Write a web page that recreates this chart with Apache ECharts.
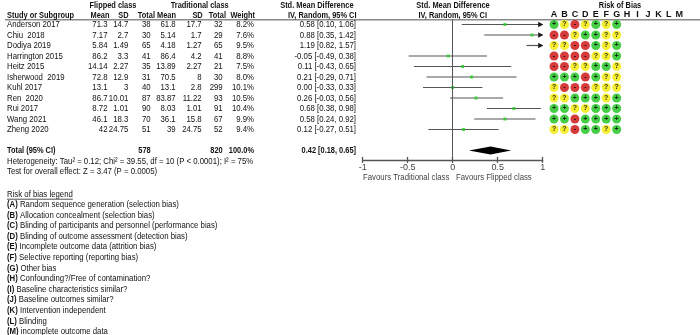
<!DOCTYPE html>
<html><head><meta charset="utf-8">
<script src="https://cdn.jsdelivr.net/npm/echarts@6/dist/echarts.min.js"></script>
<style>html,body{margin:0;padding:0;background:#fff}#c{width:700px;height:335px}</style>
</head><body><div id="c"></div>
<script>
// ---------------- data ----------------
const studies = ['Anderson 2017','Chiu  2018','Dodiya 2019','Harrington 2015','Heitz 2015','Isherwood  2019','Kuhl 2017','Ren  2020','Rui 2017','Wang 2021','Zheng 2020'];
const flipMean = [71.3, 7.17, 5.84, 86.2, 14.14, 72.8, 13.1, 86.7, 8.72, 46.1, 42];
const flipSD   = [14.7, 2.7, 1.49, 3.3, 2.27, 12.9, 3, 10.01, 1.01, 18.3, 24.75];
const flipN    = [38, 30, 65, 41, 35, 31, 40, 87, 90, 70, 51];
const tradMean = [61.8, 5.14, 4.18, 86.4, 13.89, 70.5, 13.1, 83.87, 8.03, 36.1, 39];
const tradSD   = [17.7, 1.7, 1.27, 4.2, 2.27, 8, 2.8, 11.22, 1.01, 15.8, 24.75];
const tradN    = [32, 29, 65, 41, 21, 30, 299, 93, 91, 67, 52];
const weights  = [8.2, 7.6, 9.5, 8.8, 7.5, 8.0, 10.1, 10.5, 10.4, 9.9, 9.4];
const smd      = [0.58, 0.88, 1.19, -0.05, 0.11, 0.21, 0.00, 0.26, 0.68, 0.58, 0.12];
const ciLo     = [0.10, 0.35, 0.82, -0.49, -0.43, -0.29, -0.33, -0.03, 0.38, 0.24, -0.27];
const ciHi     = [1.06, 1.42, 1.57, 0.38, 0.65, 0.71, 0.33, 0.56, 0.98, 0.92, 0.51];
const totalFlipN = 578, totalTradN = 820, totalWeight = 100.0;
const totalSMD = 0.42, totalLo = 0.18, totalHi = 0.65;
const robLetters = ['A','B','C','D','E','F','G','H','I','J','K','L','M'];
const robCodes = ['+?-?+?+','--?++??','??--+?+','----??+','--??++?','+++-+??','?---???','??+++?+','++??+++','++-++++','??-++?+'];
const xTickLabels = ['-1','-0.5','0','0.5','1'];
const heteroText = 'Heterogeneity: Tau\u00b2 = 0.12; Chi\u00b2 = 39.55, df = 10 (P < 0.0001); I\u00b2 = 75%';
const overallText = 'Test for overall effect: Z = 3.47 (P = 0.0005)';
const favLeft = 'Favours Traditional class', favRight = 'Favours Flipped class';
const legendTitle = 'Risk of bias legend';
const legendItems = [
 ['A','Random sequence generation (selection bias)'],
 ['B','Allocation concealment (selection bias)'],
 ['C','Blinding of participants and personnel (performance bias)'],
 ['D','Blinding of outcome assessment (detection bias)'],
 ['E','Incomplete outcome data (attrition bias)'],
 ['F','Selective reporting (reporting bias)'],
 ['G','Other bias'],
 ['H','Confounding?/Free of contamination?'],
 ['I','Baseline characteristics similar?'],
 ['J','Baseline outcomes similar?'],
 ['K','Intervention independent'],
 ['L','Blinding'],
 ['M','incomplete outcome data']
];

// ---------------- layout / style ----------------
const FF = '"Liberation Sans", Arial, sans-serif';
const FS = 9.5;
const SX = 0.82, SXB = 0.78; // horizontal squeeze to match the narrow reference lettering
const F = FS + 'px ' + FF, FB = 'bold ' + FS + 'px ' + FF;
const TXT = '#111';
const TOTAL_ROW = 12;
const Y_MIN = -0.5, Y_MAX = 12.9;
const GRID_TOP = 19.25, GRID_H = 140.7;
const fmt2 = v => (v < 0 ? '-' : '') + Math.abs(v).toFixed(2);
const fmtCI = (e, l, h) => fmt2(e) + ' [' + fmt2(l) + ', ' + fmt2(h) + ']';

const cols = [
 {x: 7,     align: 'left',  get: i => studies[i],                 tot: 'Total (95% CI)'},
 {x: 107.5, align: 'right', get: i => String(flipMean[i]),        tot: ''},
 {x: 128.3, align: 'right', get: i => String(flipSD[i]),          tot: ''},
 {x: 150.7, align: 'right', get: i => String(flipN[i]),           tot: String(totalFlipN)},
 {x: 175.7, align: 'right', get: i => String(tradMean[i]),        tot: ''},
 {x: 201.7, align: 'right', get: i => String(tradSD[i]),          tot: ''},
 {x: 222.7, align: 'right', get: i => String(tradN[i]),           tot: String(totalTradN)},
 {x: 254,   align: 'right', get: i => weights[i].toFixed(1) + '%', tot: totalWeight.toFixed(1) + '%'},
 {x: 356,   align: 'right', get: i => fmtCI(smd[i], ciLo[i], ciHi[i]), tot: fmtCI(totalSMD, totalLo, totalHi)}
];

function txt(text, x, y, align, font, fill) {
  const f = font || F;
  return {type: 'text', x: x, y: y, scaleX: f === FB ? SXB : SX, silent: true,
    style: {text: text, x: 0, y: 0, font: f, fill: fill || TXT,
      align: align || 'left', textAlign: align || 'left', verticalAlign: 'middle', textVerticalAlign: 'middle'}};
}

const mctx = document.createElement('canvas').getContext('2d');
mctx.font = F;
const legTitleW = mctx.measureText(legendTitle).width * SX;

const graphics = [
  {type: 'line', silent: true, shape: {x1: 5, y1: 19.8, x2: 700, y2: 19.8}, style: {stroke: '#8a8a8a', lineWidth: 1.5}},
  txt('Flipped class', 113, 5, 'center', FB),
  txt('Traditional class', 199.7, 5, 'center', FB),
  txt('Std. Mean Difference', 353.5, 5, 'right', FB),
  txt('Std. Mean Difference', 453, 5, 'center', FB),
  txt('Risk of Bias', 620, 5, 'center', FB),
  txt('Study or Subgroup', 7, 15, 'left', FB),
  txt('Mean', 109.5, 15, 'right', FB),
  txt('SD', 128.5, 15, 'right', FB),
  txt('Total', 155, 15, 'right', FB),
  txt('Mean', 176, 15, 'right', FB),
  txt('SD', 202.7, 15, 'right', FB),
  txt('Total', 226, 15, 'right', FB),
  txt('Weight', 255, 15, 'right', FB),
  txt('IV, Random, 95% CI', 356.5, 15, 'right', FB),
  txt('IV, Random, 95% CI', 452.7, 15, 'center', FB),
  txt(heteroText, 7, 161.7),
  txt(overallText, 7, 171.7),
  txt(favLeft, 449.3, 177.3, 'right', F, '#444'),
  txt(favRight, 456, 177.3, 'left', F, '#444'),
  txt(legendTitle, 7, 194),
  {type: 'line', silent: true, shape: {x1: 7, y1: 199.2, x2: 7 + legTitleW, y2: 199.2}, style: {stroke: '#222', lineWidth: 0.8}}
];
legendItems.forEach((it, k) => {
  graphics.push({type: 'text', x: 7, y: 204.3 + 10.6 * k, scaleX: SX, silent: true,
    style: {text: '{b|(' + it[0] + ')} ' + it[1], x: 0, y: 0, font: F, fill: TXT,
      align: 'left', textAlign: 'left', verticalAlign: 'middle', textVerticalAlign: 'middle',
      rich: {b: {font: FB, fill: TXT}}}});
});

const robColor = {'+': '#19c219', '?': '#f2ea00', '-': '#cc0a0a'};
const robData = [];
robCodes.forEach((s, r) => s.split('').forEach((c, k) => robData.push([k, r, c])));

const chart = echarts.init(document.getElementById('c'), null, {renderer: 'canvas'});
chart.setOption({
  animation: false,
  backgroundColor: '#fff',
  grid: [
    {left: 362.7, top: GRID_TOP, width: 180, height: GRID_H},
    {left: 548.8, top: GRID_TOP, width: 135.7, height: GRID_H}
  ],
  xAxis: [
    {gridIndex: 0, type: 'value', min: -1, max: 1, interval: 0.5, position: 'bottom',
      axisLine: {show: true, onZero: false, lineStyle: {color: '#555', width: 1.3}},
      axisTick: {show: true, length: 3, lineStyle: {color: '#555', width: 1.3}},
      axisLabel: {show: true, margin: 3, fontSize: 9, fontFamily: FF, color: '#444',
        formatter: v => xTickLabels[Math.round((v + 1) / 0.5)]},
      splitLine: {show: false}},
    {gridIndex: 0, type: 'value', min: -1, max: 1, interval: 0.5, position: 'bottom',
      axisLine: {show: false, onZero: false},
      axisTick: {show: true, inside: true, length: 3, lineStyle: {color: '#555', width: 1.3}},
      axisLabel: {show: false}, splitLine: {show: false}},
    {gridIndex: 1, type: 'category', data: robLetters, position: 'top',
      axisLine: {show: false}, axisTick: {show: false},
      axisLabel: {show: true, margin: 0, fontSize: 9, fontFamily: FF, fontWeight: 'bold', color: TXT, interval: 0},
      splitLine: {show: false}}
  ],
  yAxis: [
    {gridIndex: 0, type: 'value', inverse: true, min: Y_MIN, max: Y_MAX, show: false},
    {gridIndex: 1, type: 'value', inverse: true, min: Y_MIN, max: Y_MAX, show: false}
  ],
  graphic: graphics,
  series: [
    { // table text
      type: 'custom', xAxisIndex: 0, yAxisIndex: 0, clip: false, silent: true,
      data: studies.map((s, i) => [0, i]).concat([[0, TOTAL_ROW]]),
      encode: {x: 0, y: 1},
      renderItem: (params, api) => {
        const r = api.value(1);
        const y = api.coord([0, r])[1];
        const isTot = params.dataIndex === studies.length;
        return {type: 'group', children: cols.map(c => ({type: 'text', x: c.x, y: y, scaleX: isTot ? SXB : SX,
          style: {text: isTot ? c.tot : c.get(params.dataIndex), x: 0, y: 0,
            font: isTot ? FB : F, fill: TXT, align: c.align, textAlign: c.align,
            verticalAlign: 'middle', textVerticalAlign: 'middle'}}))};
      }
    },
    { // confidence intervals
      type: 'custom', xAxisIndex: 0, yAxisIndex: 0, clip: false, silent: true,
      data: studies.map((s, i) => [i, ciLo[i], ciHi[i]]),
      encode: {x: [1, 2], y: 0},
      renderItem: (params, api) => {
        const r = api.value(0), l = api.value(1), h = api.value(2);
        const a = api.coord([Math.max(l, -1), r]);
        const b = api.coord([Math.min(h, 1), r]);
        const ch = [{type: 'line', shape: {x1: a[0], y1: a[1], x2: b[0], y2: b[1]},
          style: {stroke: '#555', lineWidth: 1.2}}];
        if (h > 1) ch.push({type: 'polygon', shape: {points: [[b[0] + 0.5, b[1]], [b[0] - 4.5, b[1] - 2.8], [b[0] - 4.5, b[1] + 2.8]]}, style: {fill: '#1a1a1a'}});
        if (l < -1) ch.push({type: 'polygon', shape: {points: [[a[0] - 0.5, a[1]], [a[0] + 4.5, a[1] - 2.8], [a[0] + 4.5, a[1] + 2.8]]}, style: {fill: '#1a1a1a'}});
        return {type: 'group', children: ch};
      }
    },
    { // point estimates
      type: 'scatter', xAxisIndex: 0, yAxisIndex: 0, clip: true, silent: true,
      symbol: 'rect', symbolSize: 3, itemStyle: {color: '#22d022'},
      data: smd.map((v, i) => [v, i]),
      markLine: {silent: true, symbol: ['none', 'none'], label: {show: false},
        lineStyle: {color: '#555', width: 1, type: 'solid'}, data: [{xAxis: 0}]}
    },
    { // overall diamond
      type: 'custom', xAxisIndex: 0, yAxisIndex: 0, clip: false, silent: true,
      data: [[totalSMD, totalLo, totalHi, TOTAL_ROW]],
      encode: {x: [0, 1, 2], y: 3},
      renderItem: (params, api) => {
        const r = api.value(3);
        const e = api.coord([api.value(0), r]), l = api.coord([api.value(1), r]), h = api.coord([api.value(2), r]);
        return {type: 'polygon', shape: {points: [[l[0], l[1]], [e[0], e[1] - 4], [h[0], h[1]], [e[0], e[1] + 4]]},
          style: {fill: '#000'}};
      }
    },
    { // risk of bias
      type: 'scatter', xAxisIndex: 2, yAxisIndex: 1, silent: true,
      symbol: 'circle', symbolSize: 9,
      data: robData,
      encode: {x: 0, y: 1},
      itemStyle: {color: p => robColor[p.data[2]]},
      label: {show: true, position: 'inside', formatter: p => p.data[2], fontSize: 7, fontWeight: 'bold',
        fontFamily: 'Liberation Sans, Arial, sans-serif', color: '#000'}
    }
  ]
});
</script></body></html>
